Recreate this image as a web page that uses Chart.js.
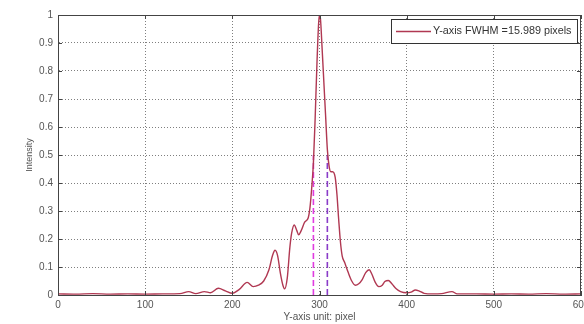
<!DOCTYPE html>
<html>
<head>
<meta charset="utf-8">
<script src="https://cdn.jsdelivr.net/npm/chart.js@4.4.1/dist/chart.umd.min.js"></script>
<style>
  html, body { margin: 0; padding: 0; background: #fff; }
  #wrap { width: 584px; height: 324px; }
</style>
</head>
<body>
<div id="wrap"><canvas id="fwhmChart" width="584" height="324"></canvas></div>
<script>
// pixel position along the Y axis profile
const pixelPos = [0, 20, 40, 60, 80, 100, 120, 140, 150, 158, 168, 175, 184, 192, 200,
  208, 217, 224, 230, 236, 242, 246, 249, 252, 255, 258, 260, 263, 266, 268, 271, 274,
  276, 279, 283, 287, 289, 291, 293, 295, 297, 299, 300, 301, 303, 305, 307, 309, 311,
  313, 315, 318, 320, 322, 324, 326, 329, 333, 337, 341, 345, 349, 353, 357, 360, 364,
  368, 372, 375, 379, 383, 388, 393, 400, 405, 410, 414, 420, 430, 440, 452, 458, 480,
  500, 520, 540, 560, 580, 600];
// normalised intensity at each position
const intensity = [0.004, 0.003, 0.005, 0.003, 0.004, 0.003, 0.004, 0.005, 0.012, 0.005,
  0.012, 0.008, 0.024, 0.015, 0.006, 0.02, 0.045, 0.03, 0.035, 0.05, 0.09, 0.14, 0.16,
  0.14, 0.08, 0.035, 0.022, 0.06, 0.17, 0.22, 0.25, 0.23, 0.215, 0.23, 0.26, 0.275, 0.31,
  0.38, 0.47, 0.63, 0.82, 0.97, 1.0, 0.99, 0.88, 0.76, 0.64, 0.52, 0.46, 0.44, 0.44, 0.42,
  0.36, 0.27, 0.19, 0.14, 0.115, 0.08, 0.05, 0.035, 0.04, 0.055, 0.08, 0.09, 0.075, 0.045,
  0.03, 0.035, 0.048, 0.052, 0.04, 0.022, 0.012, 0.008, 0.01, 0.018, 0.015, 0.006, 0.004,
  0.005, 0.012, 0.004, 0.004, 0.003, 0.004, 0.003, 0.005, 0.003, 0.004];

// half-maximum markers
const fwhmLeft = 293;
const fwhmRight = 309;
const halfMax = 0.5;

const xTicks = [0, 100, 200, 300, 400, 500, 600];
const yTicks = [0, 0.1, 0.2, 0.3, 0.4, 0.5, 0.6, 0.7, 0.8, 0.9, 1];
const legendText = 'Y-axis FWHM =15.989 pixels';

const lineColor = '#b03852';
const fontFamily = '"Liberation Sans", Arial, sans-serif';

const profile = pixelPos.map((x, i) => ({ x: x, y: intensity[i] }));

// frame, inward ticks and legend box, MATLAB style
const framePlugin = {
    id: 'frame',
    afterDraw(chart) {
        const { ctx, chartArea: a, scales } = chart;
        ctx.save();
        ctx.strokeStyle = '#444';
        ctx.lineWidth = 1;
        ctx.strokeRect(a.left + 0.5, a.top + 0.5, a.right - a.left - 1, a.bottom - a.top);
        ctx.beginPath();
        xTicks.forEach(v => {
            const px = Math.round(scales.x.getPixelForValue(v)) + 0.5;
            ctx.moveTo(px, a.bottom); ctx.lineTo(px, a.bottom - 4);
            ctx.moveTo(px, a.top); ctx.lineTo(px, a.top + 4);
        });
        yTicks.forEach(v => {
            const py = Math.round(scales.y.getPixelForValue(v)) + 0.5;
            ctx.moveTo(a.left, py); ctx.lineTo(a.left + 4, py);
            ctx.moveTo(a.right, py); ctx.lineTo(a.right - 4, py);
        });
        ctx.stroke();

        // legend
        const bx = a.right - 190, by = a.top + 4, bw = 186, bh = 24;
        ctx.fillStyle = '#fff';
        ctx.fillRect(bx, by, bw, bh);
        ctx.strokeStyle = '#333';
        ctx.strokeRect(bx + 0.5, by + 0.5, bw, bh);
        ctx.strokeStyle = lineColor;
        ctx.lineWidth = 1.3;
        ctx.beginPath();
        ctx.moveTo(bx + 5, by + 12.5);
        ctx.lineTo(bx + 40, by + 12.5);
        ctx.stroke();
        ctx.fillStyle = '#333';
        ctx.font = '10.8px ' + fontFamily;
        ctx.textBaseline = 'middle';
        ctx.fillText(legendText, bx + 42, by + 12.5);
        ctx.restore();
    }
};

new Chart(document.getElementById('fwhmChart').getContext('2d'), {
    type: 'line',
    data: {
        datasets: [{
            label: legendText,
            data: profile,
            borderColor: lineColor,
            borderWidth: 1.4,
            pointRadius: 0,
            cubicInterpolationMode: 'monotone',
            fill: false
        }, {
            label: 'left',
            data: [{ x: fwhmLeft, y: 0 }, { x: fwhmLeft, y: halfMax }],
            borderColor: '#e03ce0',
            borderWidth: 1.6,
            borderDash: [6, 3],
            pointRadius: 0
        }, {
            label: 'right',
            data: [{ x: fwhmRight, y: 0 }, { x: fwhmRight, y: halfMax }],
            borderColor: '#8a3cc8',
            borderWidth: 1.6,
            borderDash: [6, 3],
            pointRadius: 0
        }]
    },
    options: {
        responsive: false,
        animation: false,
        layout: { padding: { left: 0, top: 15, right: 3, bottom: 0 } },
        scales: {
            x: {
                type: 'linear',
                min: 0,
                max: 600,
                afterBuildTicks: s => { s.ticks = xTicks.map(v => ({ value: v })); },
                afterFit: s => { s.height = 29; s.paddingLeft = 0; s.paddingRight = 0; },
                ticks: {
                    color: '#555',
                    padding: 4,
                    maxRotation: 0,
                    font: { family: fontFamily, size: 10 }
                },
                grid: { color: 'rgba(0,0,0,0.5)', drawTicks: false },
                border: { color: '#444', dash: [1, 2] },
                title: {
                    display: true,
                    text: 'Y-axis unit: pixel',
                    color: '#555',
                    padding: { top: 0, bottom: 1 },
                    font: { family: fontFamily, size: 10 }
                }
            },
            y: {
                type: 'linear',
                min: 0,
                max: 1,
                afterBuildTicks: s => { s.ticks = yTicks.map(v => ({ value: v })); },
                afterFit: s => { s.width = 58; s.paddingTop = 0; s.paddingBottom = 0; },
                ticks: {
                    color: '#555',
                    padding: 5,
                    font: { family: fontFamily, size: 10 },
                    callback: v => String(Math.round(v * 10) / 10)
                },
                grid: { color: 'rgba(0,0,0,0.5)', drawTicks: false },
                border: { color: '#444', dash: [1, 2] },
                title: {
                    display: true,
                    text: 'Intensity',
                    color: '#555',
                    padding: { top: 24, bottom: 0 },
                    font: { family: fontFamily, size: 9 }
                }
            }
        },
        plugins: {
            legend: { display: false },
            tooltip: { enabled: false }
        }
    },
    plugins: [framePlugin]
});
</script>
</body>
</html>
